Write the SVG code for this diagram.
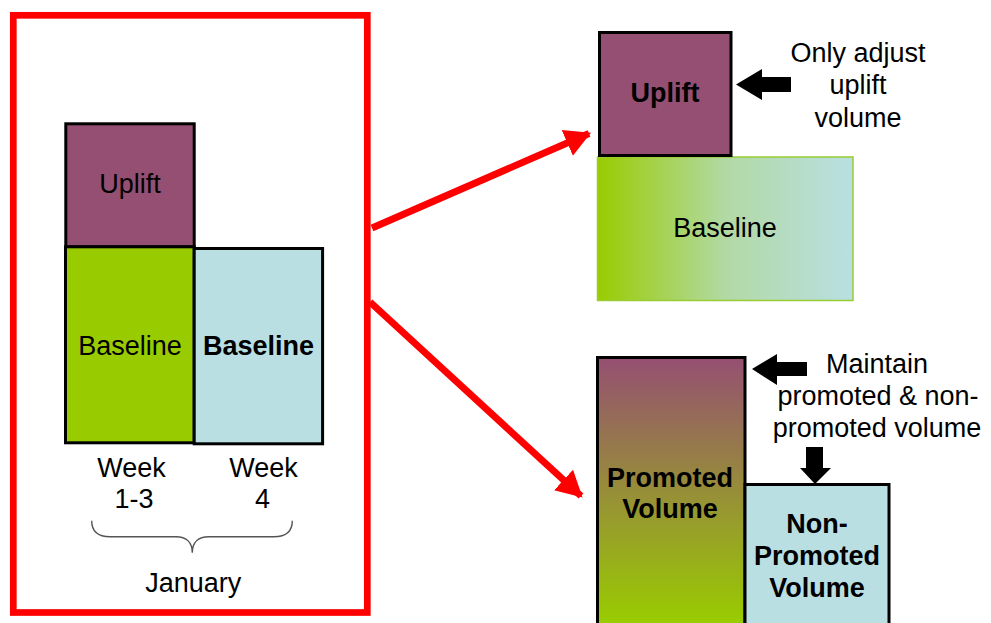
<svg xmlns="http://www.w3.org/2000/svg" width="991" height="623" viewBox="0 0 991 623">
  <style>
    .t { font-family: "Liberation Sans", Arial, sans-serif; font-size: 27px; fill: #000; text-anchor: middle; }
    .b { font-weight: bold; }
    .box { stroke: #000; stroke-width: 3; }
    .red { stroke: #ff0000; stroke-width: 7; fill: none; }
  </style>
  <defs>
    <linearGradient id="gBase" x1="0" y1="0" x2="1" y2="0">
      <stop offset="0" stop-color="#99cc00"/>
      <stop offset="0.5" stop-color="#b2d9a4"/>
      <stop offset="1" stop-color="#b9dfe3"/>
    </linearGradient>
    <linearGradient id="gPromo" gradientUnits="userSpaceOnUse" x1="0" y1="357" x2="0" y2="623">
      <stop offset="0" stop-color="#954f72"/>
      <stop offset="1" stop-color="#99cc00"/>
    </linearGradient>
    <marker id="redHead" markerUnits="userSpaceOnUse" markerWidth="28" markerHeight="30" refX="22" refY="13" orient="auto" viewBox="0 0 26 26">
      <path d="M0,0 L24,13 L0,26 Z" fill="#ff0000"/>
    </marker>
  </defs>

  <!-- January frame -->
  <g id="frame">
    <rect x="13.3" y="15.3" width="354" height="597.2" fill="none" stroke="#ff0000" stroke-width="6.7"/>
  </g>

  <!-- left stacked chart -->
  <g id="left-uplift">
    <rect class="box" x="65.8" y="123.8" width="128.4" height="123" fill="#954f72"/>
    <text class="t" x="130" y="193">Uplift</text>
  </g>
  <g id="left-baseline-w13">
    <rect class="box" x="65.5" y="246.8" width="128.7" height="196" fill="#99cc00"/>
    <text class="t" x="130" y="355">Baseline</text>
  </g>
  <g id="left-baseline-w4">
    <rect class="box" x="194.2" y="248.5" width="128.4" height="195.3" fill="#b9dfe3"/>
    <text class="t b" x="258.5" y="355">Baseline</text>
  </g>
  <g id="week-labels">
    <text class="t" x="131.5" y="477">Week</text>
    <text class="t" x="134" y="508">1-3</text>
    <text class="t" x="263.5" y="477">Week</text>
    <text class="t" x="262.5" y="508">4</text>
  </g>
  <g id="january">
    <path d="M91.7,520.7 C91.7,532 98,536.7 110,536.7 L176,536.7 C186,536.7 192.3,542 192.3,552.7 C192.3,542 198.6,536.7 208.6,536.7 L274,536.7 C286,536.7 292.3,532 292.3,520.7" fill="none" stroke="#555" stroke-width="1.4"/>
    <text class="t" x="193.3" y="592">January</text>
  </g>

  <!-- top right: adjust uplift only -->
  <g id="right-baseline">
    <rect x="597.5" y="157" width="255.5" height="143.5" fill="url(#gBase)" stroke="#99cc33" stroke-width="1.5"/>
    <text class="t" x="725" y="237">Baseline</text>
  </g>
  <g id="right-uplift">
    <rect class="box" x="599.5" y="32.5" width="131.5" height="123" fill="#954f72"/>
    <text class="t b" x="665" y="102">Uplift</text>
  </g>
  <g id="note-uplift">
    <text class="t" x="858" y="62">Only adjust</text>
    <text class="t" x="858" y="94">uplift</text>
    <text class="t" x="858" y="127">volume</text>
  </g>

  <!-- bottom right: promoted / non-promoted -->
  <g id="promoted">
    <rect class="box" x="597.5" y="357.5" width="147.5" height="275" fill="url(#gPromo)"/>
    <text class="t b" x="670" y="487">Promoted</text>
    <text class="t b" x="670" y="518">Volume</text>
  </g>
  <g id="non-promoted">
    <rect class="box" x="745" y="484.5" width="144" height="150" fill="#b9dfe3"/>
    <text class="t b" x="817" y="533">Non-</text>
    <text class="t b" x="817" y="565">Promoted</text>
    <text class="t b" x="817" y="597">Volume</text>
  </g>
  <g id="note-maintain">
    <text class="t" x="877" y="373">Maintain</text>
    <text class="t" x="878" y="405">promoted &amp; non-</text>
    <text class="t" x="877" y="437">promoted volume</text>
  </g>

  <!-- connectors -->
  <g id="connectors">
    <line class="red" x1="372" y1="228" x2="589" y2="133.5" marker-end="url(#redHead)"/>
    <line class="red" x1="370" y1="302" x2="581" y2="496" marker-end="url(#redHead)"/>
    <path d="M736,84.5 L762,69 L762,77 L791,77 L791,92 L762,92 L762,100 Z" fill="#000"/>
    <path d="M752,369 L777,354 L777,362 L807,362 L807,376 L777,376 L777,385 Z" fill="#000"/>
    <path d="M815,484 L800,468 L806,468 L806,447 L823,447 L823,468 L831,468 Z" fill="#000"/>
  </g>
</svg>
